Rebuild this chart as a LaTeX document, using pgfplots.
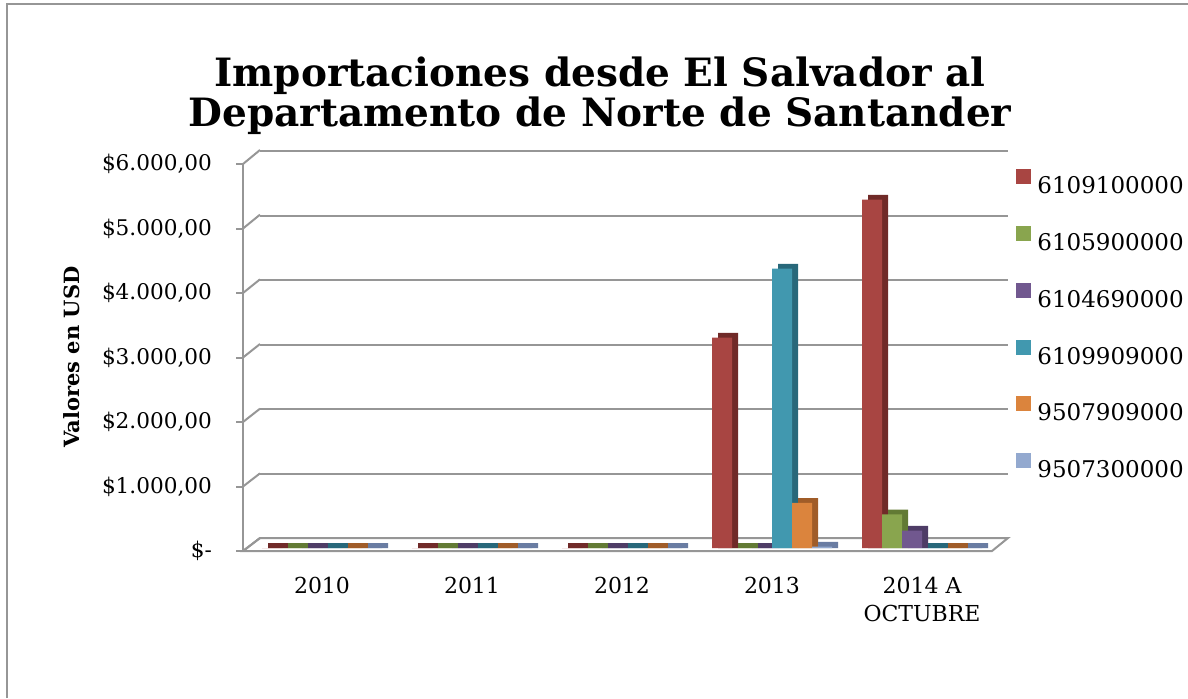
\documentclass[border=0pt]{standalone}
\usepackage{pgfplots}
\pgfplotsset{compat=1.18}
\usepackage{pgfplotstable}
\usepackage{fontspec}
\setmainfont{DejaVu Serif}

\definecolor{cA}{RGB}{168,69,66}   \definecolor{cAd}{RGB}{112,42,40}
\definecolor{cB}{RGB}{137,165,78}  \definecolor{cBd}{RGB}{98,122,52}
\definecolor{cC}{RGB}{113,88,143}  \definecolor{cCd}{RGB}{78,60,102}
\definecolor{cD}{RGB}{65,152,175}  \definecolor{cDd}{RGB}{40,104,122}
\definecolor{cE}{RGB}{219,132,61}  \definecolor{cEd}{RGB}{160,92,40}
\definecolor{cF}{RGB}{147,169,207} \definecolor{cFd}{RGB}{105,124,162}
\definecolor{gridc}{RGB}{150,150,150}

\pgfplotstableread{
x s1 s2 s3 s4 s5 s6
0 0 0 0 0 0 0
1 0 0 0 0 0 0
2 0 0 0 0 0 0
3 3260 0 0 4330 700 20
4 5400 520 270 0 0 0
}\data

\begin{document}
\begin{tikzpicture}[x=0.5pt,y=0.5pt]
\path[use as bounding box] (0,0) rectangle (1188,698);
\draw[gridc, line width=1.2pt] (7,0) -- (7,694) -- (1188,694);
\node[anchor=base, font=\bfseries\fontsize{19.5}{22}\selectfont] at (600,611) {Importaciones desde El Salvador al};
\node[anchor=base, font=\bfseries\fontsize{19.5}{22}\selectfont] at (600,572) {Departamento de Norte de Santander};
\node[rotate=90, font=\bfseries\fontsize{10.5}{12}\selectfont] at (72,341) {Valores en USD};

% back wall with gridlines
\begin{axis}[at={(130pt,80pt)}, anchor=south west, scale only axis,
  width=374pt, height=193.5pt, xmin=0, xmax=1, ymin=0, ymax=6000,
  xtick=\empty, ytick={0,1000,...,6000}, yticklabels={},
  ymajorgrids, major grid style={gridc, line width=1pt},
  axis line style={draw=none}, major tick length=0pt]
\end{axis}

% floor
\draw[gridc, line width=1pt, fill=white] (243,147) -- (992,147) -- (1008,160) -- (260,160) -- cycle;

% front axis: lines, ticks and labels
\begin{axis}[at={(121.5pt,73.5pt)}, anchor=south west, scale only axis,
  width=374.5pt, height=193.5pt,
  xmin=-0.5267, xmax=4.4667, ymin=0, ymax=6000, clip=false,
  axis x line*=bottom, axis y line*=left,
  axis line style={gridc, line width=1pt},
  xtick={0,...,4},
  xticklabels={2010,2011,2012,2013,{2014 A\\OCTUBRE}},
  x tick style={draw=none},
  xticklabel style={align=center, font=\fontsize{11}{14}\selectfont, yshift=-6pt},
  ytick={0,1000,...,6000},
  yticklabels={{\$-\hspace{5pt}},{\$1.000,00},{\$2.000,00},{\$3.000,00},{\$4.000,00},{\$5.000,00},{\$6.000,00}},
  y tick style={gridc, line width=1pt},
  tick align=outside, major tick length=3.5pt,
  yticklabel style={font=\fontsize{10.8}{12}\selectfont, xshift=-8.5pt},
]
\end{axis}

% bars (at mid depth)
\begin{axis}[at={(121.5pt,75pt)}, anchor=south west, scale only axis,
  width=374.5pt, height=193.5pt,
  xmin=-0.5267, xmax=4.4667, ymin=0, ymax=6000, clip=false, hide axis,
  legend cell align=left,
  legend style={at={(1.032,0.9793)}, anchor=north west, draw=none, fill=none,
    font=\fontsize{11.5}{13}\selectfont, row sep=16.1pt, column sep=3pt, inner sep=0pt,
    nodes={inner sep=0pt, text height=8.5pt, text depth=0pt}},
  legend image code/.code={\fill[#1] (0pt,0.5pt) rectangle (7.5pt,8pt);},
]
% depth faces
\addplot[ybar, bar width=10pt, bar shift=-22pt, fill=cAd, draw=none, forget plot] table[x=x, y expr=\thisrow{s1}+75]{\data};
\addplot[ybar, bar width=10pt, bar shift=-12pt, fill=cBd, draw=none, forget plot] table[x=x, y expr=\thisrow{s2}+75]{\data};
\addplot[ybar, bar width=10pt, bar shift=-2pt, fill=cCd, draw=none, forget plot] table[x=x, y expr=\thisrow{s3}+75]{\data};
\addplot[ybar, bar width=10pt, bar shift=8pt, fill=cDd, draw=none, forget plot] table[x=x, y expr=\thisrow{s4}+75]{\data};
\addplot[ybar, bar width=10pt, bar shift=18pt, fill=cEd, draw=none, forget plot] table[x=x, y expr=\thisrow{s5}+75]{\data};
\addplot[ybar, bar width=10pt, bar shift=28pt, fill=cFd, draw=none, forget plot] table[x=x, y expr=\thisrow{s6}+75]{\data};
% front faces
\addplot[ybar, bar width=10pt, bar shift=-25pt, fill=cA, draw=none] table[x=x, y=s1]{\data};
\addplot[ybar, bar width=10pt, bar shift=-15pt, fill=cB, draw=none] table[x=x, y=s2]{\data};
\addplot[ybar, bar width=10pt, bar shift=-5pt, fill=cC, draw=none] table[x=x, y=s3]{\data};
\addplot[ybar, bar width=10pt, bar shift=5pt, fill=cD, draw=none] table[x=x, y=s4]{\data};
\addplot[ybar, bar width=10pt, bar shift=15pt, fill=cE, draw=none] table[x=x, y=s5]{\data};
\addplot[ybar, bar width=10pt, bar shift=25pt, fill=cF, draw=none] table[x=x, y=s6]{\data};
\legend{6109100000,6105900000,6104690000,6109909000,9507909000,9507300000}
\end{axis}

\foreach \k in {0,...,6} {
  \draw[gridc, line width=1pt] (243,{147+64.5*\k}) -- (260,{160+64.67*\k});
}
\end{tikzpicture}
\end{document}
